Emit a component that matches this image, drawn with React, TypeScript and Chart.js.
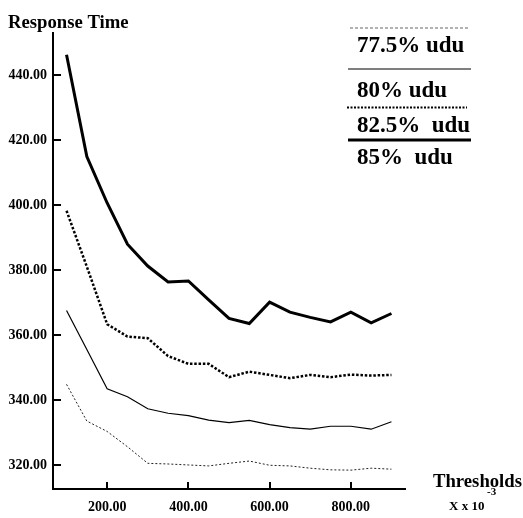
import React, { useEffect, useRef } from "react";
import { Chart, registerables } from "chart.js";

Chart.register(...registerables);

const thresholds = [100, 150, 200, 250, 300, 350, 400, 450, 500, 550, 600, 650, 700, 750, 800, 850, 900];
const udu775 = [344.8, 333.5, 330.3, 325.6, 320.5, 320.3, 320.0, 319.7, 320.5, 321.2, 319.9, 319.7, 319.0, 318.5, 318.4, 319.0, 318.7];
const udu80 = [367.5, 355.5, 343.4, 341.0, 337.3, 335.9, 335.2, 333.8, 333.0, 333.7, 332.4, 331.5, 331.0, 331.9, 331.9, 331.0, 333.3];
const udu825 = [398.2, 381.0, 363.3, 359.5, 359.0, 353.5, 351.1, 351.1, 347.0, 348.7, 347.7, 346.7, 347.7, 347.0, 347.8, 347.5, 347.7];
const udu85 = [446.2, 414.9, 400.6, 387.9, 381.2, 376.3, 376.6, 370.8, 365.1, 363.5, 370.1, 367.0, 365.4, 364.0, 367.0, 363.7, 366.6];
const seriesLabels = ["77.5% udu", "80% udu", "82.5%  udu", "85%  udu"];
const xTickValues = [200, 400, 600, 800];
const yTickValues = [320, 340, 360, 380, 400, 420, 440];

const FONT = "'Liberation Serif', 'Times New Roman', serif";

const decorPlugin = {
  id: "decor",
  afterDraw(chart: any) {
    const ctx = chart.ctx as CanvasRenderingContext2D;
    const { left, bottom } = chart.chartArea;
    const xs = chart.scales.x;
    const ys = chart.scales.y;
    ctx.save();
    // inward tick marks
    ctx.strokeStyle = "#000";
    ctx.lineWidth = 2;
    ctx.setLineDash([]);
    ctx.beginPath();
    for (const v of yTickValues) {
      const py = Math.round(ys.getPixelForValue(v));
      ctx.moveTo(left, py);
      ctx.lineTo(left + 8, py);
    }
    for (const v of xTickValues) {
      const px = Math.round(xs.getPixelForValue(v));
      ctx.moveTo(px, bottom);
      ctx.lineTo(px, bottom - 7);
    }
    ctx.stroke();

    // titles
    ctx.fillStyle = "#000";
    ctx.textBaseline = "alphabetic";
    ctx.textAlign = "left";
    ctx.font = `bold 18.7px ${FONT}`;
    ctx.fillText("Response Time", 8, 28);
    ctx.fillText("Thresholds", 433, 487);
    ctx.font = `bold 13px ${FONT}`;
    ctx.fillText("X x 10", 449, 510);
    ctx.font = `bold 11px ${FONT}`;
    ctx.fillText("-3", 487, 495);

    // legend
    const legendLines = [
      { y: 28, x0: 350, x1: 470, color: "#666", width: 1.2, dash: [3, 2] },
      { y: 69, x0: 348, x1: 471, color: "#555", width: 1.5, dash: [] as number[] },
      { y: 107.5, x0: 347, x1: 467, color: "#000", width: 2, dash: [2, 1.5] },
      { y: 140, x0: 348, x1: 471, color: "#000", width: 3, dash: [] as number[] },
    ];
    const textBaselines = [52, 97, 132, 164];
    ctx.font = `bold 23px ${FONT}`;
    legendLines.forEach((l, i) => {
      ctx.strokeStyle = l.color;
      ctx.lineWidth = l.width;
      ctx.setLineDash(l.dash);
      ctx.beginPath();
      ctx.moveTo(l.x0, l.y);
      ctx.lineTo(l.x1, l.y);
      ctx.stroke();
      ctx.fillText(seriesLabels[i], 357, textBaselines[i]);
    });
    ctx.restore();
  },
};

export default function App() {
  const canvasRef = useRef<HTMLCanvasElement | null>(null);

  useEffect(() => {
    if (!canvasRef.current) return;
    const mk = (arr: number[]) => thresholds.map((x, i) => ({ x, y: arr[i] }));
    const chart = new Chart(canvasRef.current, {
      type: "line",
      data: {
        datasets: [
          { label: seriesLabels[0], data: mk(udu775), borderColor: "#222", borderWidth: 1, borderDash: [2, 2], pointRadius: 0, fill: false },
          { label: seriesLabels[1], data: mk(udu80), borderColor: "#000", borderWidth: 1.2, pointRadius: 0, fill: false },
          { label: seriesLabels[2], data: mk(udu825), borderColor: "#000", borderWidth: 2.5, borderDash: [2.5, 1.8], pointRadius: 0, fill: false },
          { label: seriesLabels[3], data: mk(udu85), borderColor: "#000", borderWidth: 3, pointRadius: 0, fill: false },
        ],
      },
      options: {
        animation: false,
        responsive: false,
        events: [],
        layout: { padding: { top: 33, right: 118, left: 0, bottom: 0 } },
        plugins: { legend: { display: false }, tooltip: { enabled: false }, title: { display: false } },
        scales: {
          x: {
            type: "linear",
            min: 66.67,
            max: 933.33,
            grid: { display: false, drawTicks: false },
            border: { display: true, color: "#000", width: 2 },
            afterBuildTicks: (scale: any) => {
              scale.ticks = xTickValues.map((v) => ({ value: v }));
            },
            afterFit: (scale: any) => {
              scale.height = 29;
            },
            ticks: {
              padding: 10,
              color: "#000",
              maxRotation: 0,
              autoSkip: false,
              font: { family: FONT, size: 14, weight: "bold" },
              callback: (v: any) => Number(v).toFixed(2),
            },
          },
          y: {
            type: "linear",
            min: 312.6,
            max: 452.9,
            grid: { display: false, drawTicks: false },
            border: { display: true, color: "#000", width: 2 },
            afterBuildTicks: (scale: any) => {
              scale.ticks = yTickValues.map((v) => ({ value: v }));
            },
            afterFit: (scale: any) => {
              scale.width = 53;
            },
            ticks: {
              padding: 6,
              color: "#000",
              autoSkip: false,
              font: { family: FONT, size: 14, weight: "bold" },
              callback: (v: any) => Number(v).toFixed(2),
            },
          },
        },
      },
      plugins: [decorPlugin],
    });
    return () => chart.destroy();
  }, []);

  return (
    <div style={{ position: "absolute", left: 0, top: 0, width: 523, height: 518, background: "#fff" }}>
      <canvas ref={canvasRef} width={523} height={518} style={{ width: 523, height: 518, display: "block" }} />
    </div>
  );
}
